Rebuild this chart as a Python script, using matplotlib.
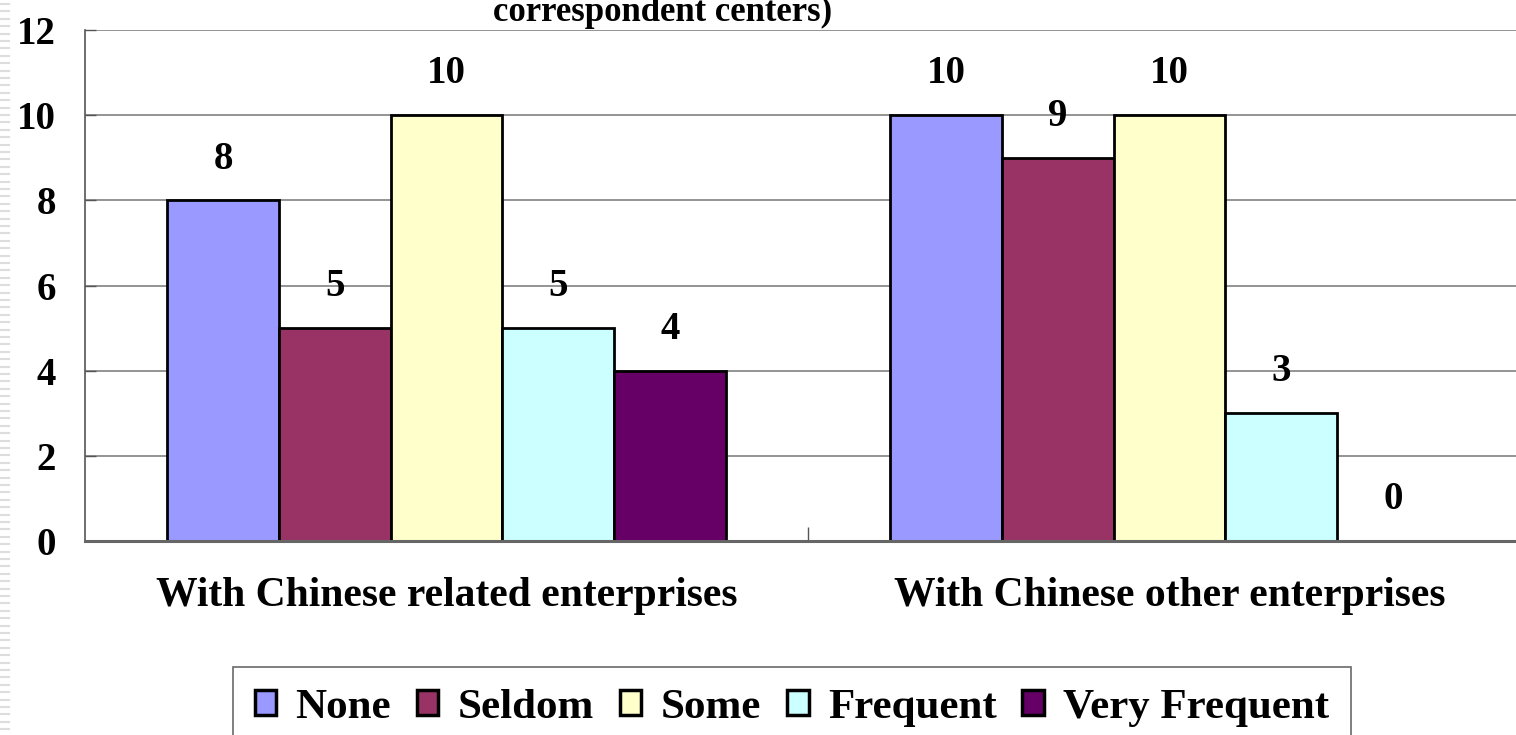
import matplotlib
matplotlib.use("Agg")
from matplotlib import pyplot as plt
from matplotlib.lines import Line2D
import numpy as np

plt.rcParams['font.family'] = ['Liberation Serif', 'DejaVu Serif']
plt.rcParams['font.weight'] = 'bold'

categories = ["With Chinese related enterprises", "With Chinese other enterprises"]
series = ["None", "Seldom", "Some", "Frequent", "Very Frequent"]
values = {
    "None": [8, 10],
    "Seldom": [5, 9],
    "Some": [10, 10],
    "Frequent": [5, 3],
    "Very Frequent": [4, 0],
}
colors = ["#9999FF", "#993366", "#FFFFCC", "#CCFFFF", "#660066"]
yticks = [0, 2, 4, 6, 8, 10, 12]

W, H = 1516, 735
fig = plt.figure(figsize=(W / 100, H / 100), dpi=100)

# plot area runs past the right edge of the picture, as in the reference
left, bottom, top = 85, 541, 30
cat_w = 723
ax = fig.add_axes([left / W, 1 - bottom / H, 2 * cat_w / W, (bottom - top) / H])

x = np.arange(len(categories))
bw = 0.1545
for i, (name, c) in enumerate(zip(series, colors)):
    pos = x + (i - 2) * bw
    vals = values[name]
    ax.bar(pos, vals, bw, color=c, edgecolor="black", linewidth=2,
           label=name, zorder=3)
    for p, v in zip(pos, vals):
        ax.text(p, v + 0.97, str(v), ha="center", va="center",
                fontsize=28, fontweight="bold")

ax.set_xlim(-0.5, 1.5)
ax.set_ylim(0, 12)
ax.set_yticks(yticks)
ax.set_yticklabels([str(t) for t in yticks], fontsize=28, fontweight="bold")
ax.tick_params(axis="y", direction="in", length=8, width=1, color="#555555", pad=21)
ax.yaxis.grid(True, color="#777777", linewidth=1.1, zorder=0)

ax.set_xticks(x)
ax.set_xticklabels(categories, fontsize=30, fontweight="bold")
ax.tick_params(axis="x", length=0, pad=26)
ax.set_xticks([0.5], minor=True)
ax.tick_params(axis="x", which="minor", direction="in", length=10, width=1, color="#555555")

for s in ["top", "right"]:
    ax.spines[s].set_visible(False)
ax.spines["left"].set_color("#555555")
ax.spines["left"].set_linewidth(1.2)
ax.spines["bottom"].set_color("#666666")
ax.spines["bottom"].set_linewidth(2.2)
ax.spines["bottom"].set_zorder(4)

# title, only its last line is visible
fig.text(663 / W, 1 - 21 / H, "correspondent centers)", ha="center", va="baseline",
         fontsize=25, fontweight="bold")

leg = fig.legend(loc="upper center", bbox_to_anchor=(792 / W, 1 - 667 / H), ncol=5,
                 fontsize=31, frameon=True, fancybox=False, handlelength=0.5,
                 handleheight=0.5, handletextpad=0.45, columnspacing=0.6,
                 borderpad=0.5, borderaxespad=0)
leg.get_frame().set_edgecolor("#444444")
leg.get_frame().set_linewidth(1.2)
for h in leg.legend_handles:
    h.set_linewidth(2.5)

# faint striped slide border on the left
for yy in np.arange(4, H, 7.4):
    fig.add_artist(Line2D([0, 9 / W], [1 - yy / H] * 2, color="#dddddd", linewidth=1.5))

fig.savefig("out.png", dpi=100)
